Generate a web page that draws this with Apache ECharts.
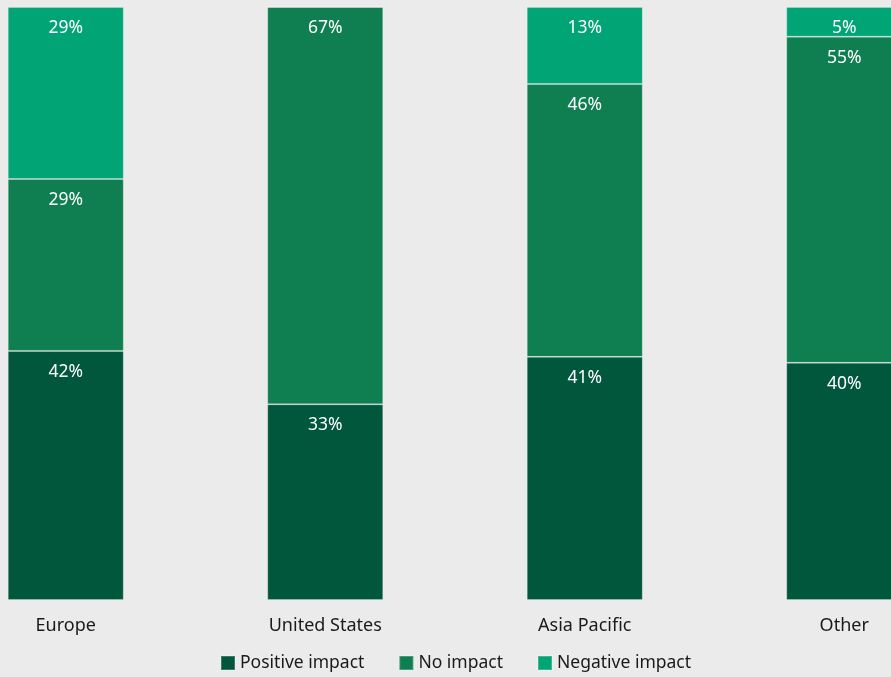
<!DOCTYPE html>
<html><head><meta charset="utf-8">
<script src="https://cdn.jsdelivr.net/npm/echarts@6/dist/echarts.min.js"></script>
<style>html,body{margin:0;padding:0;background:#ebebeb}#c{width:891px;height:677px}</style>
</head><body><div id="c"></div>
<script>
const categories = ["Europe", "United States", "Asia Pacific", "Other"];
const positiveImpact = [42, 33, 41, 40];
const noImpact = [29, 67, 46, 55];
const negativeImpact = [29, 0, 13, 5];
const seriesNames = ["Positive impact", "No impact", "Negative impact"];
const colors = ["#01573b", "#0f7f51", "#00a475"];

const font = "'Noto Sans', 'Open Sans', sans-serif";
const chart = echarts.init(document.getElementById('c'), null, {renderer: 'canvas'});
function mk(name, data, color) {
  return {
    name, type: 'bar', stack: 'total', data, barWidth: 116,
    itemStyle: {color, borderColor: 'rgba(255,255,255,0.22)', borderWidth: 1},
    label: {show: true, position: 'insideTop', distance: 12, color: '#ffffff', fontSize: 17.5, fontFamily: font,
      formatter: p => p.value > 0 ? p.value + '%' : ''},
    emphasis: {disabled: true}
  };
}
chart.setOption({
  backgroundColor: '#ebebeb',
  animation: false,
  grid: {left: -64, width: 1038, top: 7, bottom: 77, containLabel: false, outerBoundsMode: 'none'},
  xAxis: {type: 'category', data: categories,
    axisLine: {show: false}, axisTick: {show: false},
    axisLabel: {margin: 17, fontSize: 18, color: '#1a1a1a', fontFamily: font}},
  yAxis: {type: 'value', min: 0, max: 100, show: false, splitLine: {show: false}},
  legend: {left: 220, top: 654, padding: 0, itemWidth: 14, itemHeight: 14, itemGap: 34, icon: 'rect',
    textStyle: {fontSize: 17.5, color: '#1a1a1a', fontFamily: font}, data: seriesNames},
  series: [mk(seriesNames[0], positiveImpact, colors[0]), mk(seriesNames[1], noImpact, colors[1]), mk(seriesNames[2], negativeImpact, colors[2])]
});
</script></body></html>
